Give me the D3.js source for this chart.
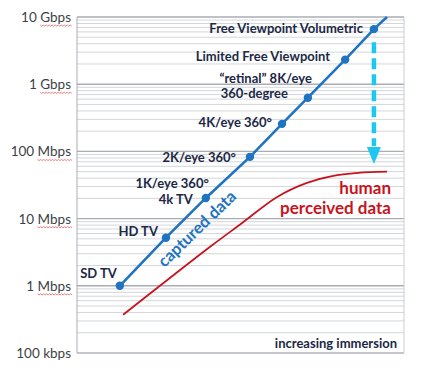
<!DOCTYPE html>
<html><head><meta charset="utf-8">
<script src="https://cdn.jsdelivr.net/npm/d3@7"></script>
<style>body{margin:0;background:#fff}svg{display:block}</style>
</head><body><div id="c"></div>
<script>
// ---- data ----
const tickValues = [0.1, 1, 10, 100, 1000, 10000];           // Mbps
const tickLabels = ["100 kbps", "1 Mbps", "10 Mbps", "100 Mbps", "1 Gbps", "10 Gbps"];
const capturedNames = ["SD TV", "HD TV", "4k TV / 1K/eye 360°", "2K/eye 360°", "4K/eye 360°", "“retinal” 8K/eye 360-degree", "Limited Free Viewpoint", "Free Viewpoint Volumetric", ""];
const capturedX = [13.1, 27.2, 39.4, 52.9, 62.7, 70.6, 82.0, 90.8, 94.8];
const capturedY = [1, 5.2, 20.3, 83, 257, 630, 2320, 6600, 10000];
const perceivedX = [14.1, 41.0, 50.5, 61.2, 70.3, 78.0, 86.0, 94.8];
const perceivedY = [0.37, 3.9, 8.6, 21, 34, 43, 48, 50];
const arrowX = 90.8, arrowFrom = 4200, arrowTo = 65;

const W = 422, H = 370;
const L = 77, R = 404, T = 17, B = 353;
const svg = d3.select("#c").append("svg").attr("width", W).attr("height", H);
const x = d3.scaleLinear().domain([0, 100]).range([L, R]);
const y = d3.scaleLog().domain([0.1, 10000]).range([B, T]);

// gridlines
const minor = y.ticks();
const isMajor = d => tickValues.some(t => Math.abs(t - d) / t < 1e-6);
svg.append("g").selectAll("line").data(minor).join("line")
  .attr("x1", L).attr("x2", R)
  .attr("y1", d => y(d)).attr("y2", d => y(d))
  .attr("stroke", d => isMajor(d) ? "#a9adb3" : "#d3d6da")
  .attr("stroke-width", d => isMajor(d) ? 1.4 : 1);
// frame
svg.append("line").attr("x1", L).attr("x2", L).attr("y1", T).attr("y2", B).attr("stroke", "#a9adb3");
svg.append("line").attr("x1", R).attr("x2", R).attr("y1", T).attr("y2", B).attr("stroke", "#c8ccd0");
svg.append("line").attr("x1", L).attr("x2", R).attr("y1", B).attr("y2", B).attr("stroke", "#c8ccd0");

// y tick labels
const lab = svg.append("g").selectAll("text").data(tickValues).join("text")
  .attr("x", L - 6).attr("y", d => y(d) + 5)
  .attr("text-anchor", "end").attr("font-family", "Lato, 'Open Sans', sans-serif")
  .attr("font-size", 13.5).attr("fill", "#3c3f45")
  .text((d, i) => tickLabels[i]);
lab.each(function (d, i) {
  const t = tickLabels[i];
  if (t.indexOf("kbps") >= 0) return;
  const idx = t.indexOf(" ") + 1;
  const ul = this.getSubStringLength(idx, t.length - idx);
  const x1 = L - 6, x0 = x1 - ul, yy = y(d) + 8;
  let p = "M" + x0 + "," + yy;
  for (let xx = x0, k = 0; xx < x1; xx += 1.5, k++) p += "L" + (xx + 1.5) + "," + (yy + (k % 2 ? 0 : 1.2));
  svg.append("path").attr("d", p).attr("fill", "none").attr("stroke", "#e0605a").attr("stroke-width", 0.8);
});

// perceived (red) curve
const red = perceivedX.map((v, i) => [x(v), y(perceivedY[i])]);
svg.append("path").attr("d", d3.line().curve(d3.curveCatmullRom.alpha(0.5))(red))
  .attr("fill", "none").attr("stroke", "#c8141e").attr("stroke-width", 1.8);

// captured (blue) line
const blue = capturedX.map((v, i) => [x(v), y(capturedY[i])]);
svg.append("path").attr("d", d3.line()(blue))
  .attr("fill", "none").attr("stroke", "#1f74c2").attr("stroke-width", 2.6);
svg.append("g").selectAll("circle").data(blue.slice(0, 8)).join("circle")
  .attr("cx", d => d[0]).attr("cy", d => d[1]).attr("r", 4.2).attr("fill", "#1f74c2");

// arrow
const ax = x(arrowX), ay0 = y(arrowFrom), ay1 = y(arrowTo);
svg.append("line").attr("x1", ax).attr("x2", ax).attr("y1", ay0).attr("y2", ay1 - 18)
  .attr("stroke", "#1ec6f2").attr("stroke-width", 4.5).attr("stroke-dasharray", "11 5");
svg.append("path").attr("d", `M${ax - 7},${ay1 - 17}L${ax + 7},${ay1 - 17}L${ax},${ay1}Z`).attr("fill", "#1ec6f2");

// point labels
const NAVY = "#1c2846";
const F = "Lato, 'Open Sans', sans-serif";
function label(i, dx, dy, txt, anchor) {
  svg.append("text").attr("x", blue[i][0] + dx).attr("y", blue[i][1] + dy)
    .attr("text-anchor", anchor || "end").attr("font-family", F).attr("font-weight", 700)
    .attr("font-size", 13).attr("fill", NAVY).text(txt);
}
label(0, -3, -8, "SD TV");
label(1, -8, -2, "HD TV");
label(2, -13, 6, "4k TV");
label(2, 3, -10, "1K/eye 360°");
label(3, -14, 5, "2K/eye 360°");
label(4, -10, 3, "4K/eye 360°");
label(5, 4, -15, "“retinal” 8K/eye");
label(5, -20, 0, "360-degree");
label(6, -15, 1, "Limited Free Viewpoint");
label(7, -11, 4, "Free Viewpoint Volumetric");

// captured data rotated label
const cx = (blue[1][0] + blue[2][0]) / 2 + 15, cy = (blue[1][1] + blue[2][1]) / 2 + 15;
svg.append("text").attr("transform", `translate(${cx},${cy}) rotate(-44)`)
  .attr("text-anchor", "middle").attr("font-family", F).attr("font-weight", 700)
  .attr("font-size", 16.5).attr("fill", "#1f74c2").text("captured data");

// human perceived data
const rl = red[red.length - 1];
svg.append("text").attr("x", rl[0] + 4).attr("y", rl[1] + 22).attr("text-anchor", "end")
  .attr("font-family", F).attr("font-weight", 700).attr("font-size", 17).attr("fill", "#c8141e").text("human");
svg.append("text").attr("x", rl[0] + 4).attr("y", rl[1] + 42).attr("text-anchor", "end")
  .attr("font-family", F).attr("font-weight", 700).attr("font-size", 17).attr("fill", "#c8141e").text("perceived data");

svg.append("text").attr("x", R - 7).attr("y", B - 5).attr("text-anchor", "end")
  .attr("font-family", F).attr("font-weight", 700).attr("font-size", 13).attr("fill", NAVY).text("increasing immersion");
</script></body></html>
